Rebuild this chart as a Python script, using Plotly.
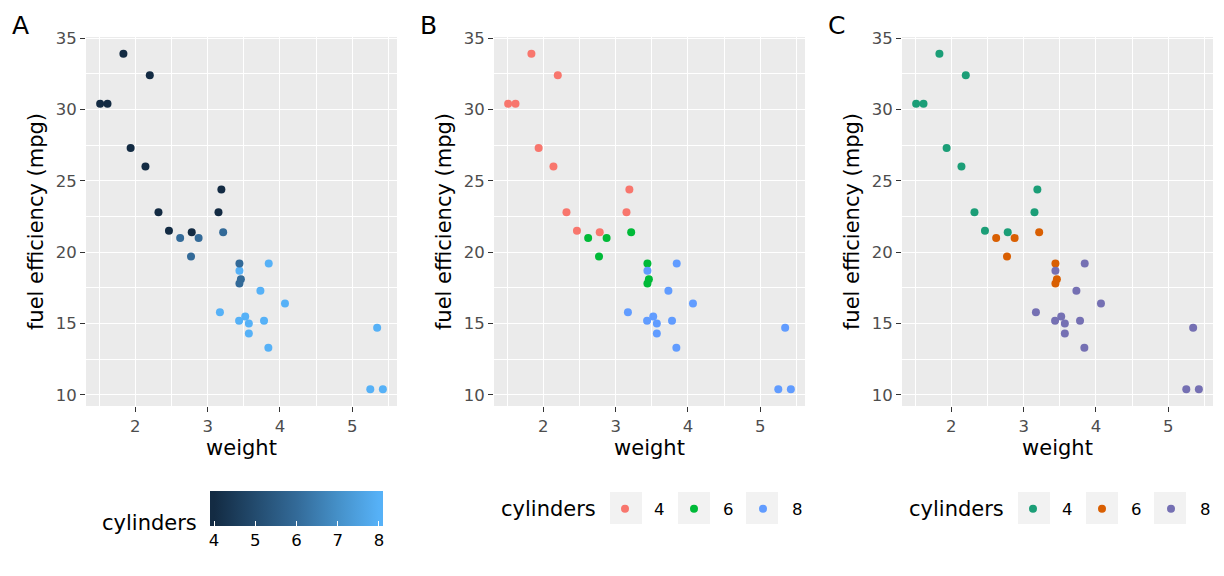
import plotly.graph_objects as go

# mtcars: weight (1000 lbs), mpg, cylinders
weight = [2.620, 2.875, 2.320, 3.215, 3.440, 3.460, 3.570, 3.190, 3.150, 3.440, 3.440,
          4.070, 3.730, 3.780, 5.250, 5.424, 5.345, 2.200, 1.615, 1.835, 2.465, 3.520,
          3.435, 3.840, 3.845, 1.935, 2.140, 1.513, 3.170, 2.770, 3.570, 2.780]
mpg = [21.0, 21.0, 22.8, 21.4, 18.7, 18.1, 14.3, 24.4, 22.8, 19.2, 17.8,
       16.4, 17.3, 15.2, 10.4, 10.4, 14.7, 32.4, 30.4, 33.9, 21.5, 15.5,
       15.2, 13.3, 19.2, 27.3, 26.0, 30.4, 15.8, 19.7, 15.0, 21.4]
cyl = [6, 6, 4, 6, 8, 6, 8, 4, 4, 6, 6,
       8, 8, 8, 8, 8, 8, 4, 4, 4, 4, 8,
       8, 8, 8, 4, 4, 4, 8, 6, 8, 4]
cyl_levels = [4, 6, 8]
colorbar_ticks = [4, 5, 6, 7, 8]
hue_colors = ["#F8766D", "#00BA38", "#619CFF"]
dark2_colors = ["#1B9E77", "#D95F02", "#7570B3"]
gradient_colors = ["#132B43", "#234B6E", "#336A98", "#4590C8", "#56B1F7"]
panel_labels = ["A", "B", "C"]

W, H = 1224, 576
FONT = "DejaVu Sans"
TICK_SIZE = 16.5
TITLE_SIZE = 21


def px(x):
    return x / W


def py(y):
    return 1 - y / H


# colour bar slightly extends beyond data range (as in ggplot guide)
cpad = 0.1
cmin, cmax = min(cyl) - cpad, max(cyl) + cpad
f0 = cpad / (cmax - cmin)
gradient = [[0.0, gradient_colors[0]]]
for j, col in enumerate(gradient_colors):
    gradient.append([f0 + (1 - 2 * f0) * j / (len(gradient_colors) - 1), col])
gradient.append([1.0, gradient_colors[-1]])

panels = [(86, 397), (494, 805), (902, 1213)]
top, bottom = 37, 406

fig = go.Figure()
layout = dict(width=W, height=H, margin=dict(l=0, r=0, t=0, b=0, autoexpand=False),
              paper_bgcolor="white", plot_bgcolor="#EBEBEB",
              font=dict(family=FONT, color="black"), annotations=[], shapes=[])

xr = [min(weight) - 0.05 * (max(weight) - min(weight)),
      max(weight) + 0.05 * (max(weight) - min(weight))]
yr = [min(mpg) - 0.05 * (max(mpg) - min(mpg)),
      max(mpg) + 0.05 * (max(mpg) - min(mpg))]

for i, (l, r) in enumerate(panels):
    sfx = "" if i == 0 else str(i + 1)
    ax_common = dict(showline=False, zeroline=False, gridcolor="white", gridwidth=1.3,
                     ticks="outside", ticklen=5, tickwidth=1.1, tickcolor="#333333",
                     tickfont=dict(size=TICK_SIZE, color="#4D4D4D", family=FONT),
                     automargin=False)
    minor = dict(showgrid=True, gridcolor="white", gridwidth=0.6)
    layout["xaxis" + sfx] = dict(ax_common, domain=[px(l), px(r)], range=xr,
                                 anchor="y" + sfx, tick0=0, dtick=1,
                                 minor=dict(minor, dtick=0.5, tick0=0),
                                 title=dict(text="weight", font=dict(size=TITLE_SIZE),
                                            standoff=4))
    layout["yaxis" + sfx] = dict(ax_common, domain=[py(bottom), py(top)], range=yr,
                                 anchor="x" + sfx, tick0=0, dtick=5,
                                 minor=dict(minor, dtick=2.5, tick0=0),
                                 title=dict(text="fuel efficiency (mpg)",
                                            font=dict(size=TITLE_SIZE), standoff=6))
    layout["annotations"].append(dict(text=panel_labels[i], x=px(l - 66), y=py(26),
                                      xref="paper", yref="paper", showarrow=False,
                                      font=dict(size=25), xanchor="center",
                                      yanchor="middle"))

# Panel A: continuous colour
fig.add_trace(go.Scatter(
    x=weight, y=mpg, mode="markers", xaxis="x", yaxis="y", showlegend=False,
    marker=dict(size=8, color=cyl, colorscale=gradient, cmin=cmin, cmax=cmax,
                showscale=True,
                colorbar=dict(orientation="h", x=px(210), xanchor="left",
                              y=py(491), yanchor="top",
                              lenmode="pixels", len=173,
                              thicknessmode="pixels", thickness=35,
                              outlinewidth=0, ticks="inside", ticklen=5,
                              tickcolor="white", tickwidth=1.2,
                              tickvals=colorbar_ticks, xpad=0, ypad=0,
                              tickfont=dict(size=TICK_SIZE, family=FONT,
                                            color="black")))))
layout["annotations"].append(dict(text="cylinders", x=px(199), y=py(523),
                                  xref="paper", yref="paper", showarrow=False,
                                  font=dict(size=TITLE_SIZE), xanchor="right",
                                  yanchor="middle"))

# Panels B and C: discrete colours
for pi, (colors, leg, sfx) in enumerate([(hue_colors, "legend", "2"),
                                          (dark2_colors, "legend2", "3")]):
    for c, col in zip(cyl_levels, colors):
        xs = [w for w, cc in zip(weight, cyl) if cc == c]
        ys = [m for m, cc in zip(mpg, cyl) if cc == c]
        fig.add_trace(go.Scatter(x=xs, y=ys, mode="markers", name=str(c),
                                 xaxis="x" + sfx, yaxis="y" + sfx, legend=leg,
                                 marker=dict(size=8, color=col)))
    off = 408 * pi
    layout[leg] = dict(orientation="h", x=px(596 + off), xanchor="left", y=py(509),
                       yanchor="middle", bgcolor="rgba(0,0,0,0)",
                       font=dict(size=TICK_SIZE, family=FONT), itemwidth=48,
                       entrywidth=6, entrywidthmode="pixels")
    layout["annotations"].append(dict(text="cylinders", x=px(598 + off), y=py(509),
                                      xref="paper", yref="paper", showarrow=False,
                                      font=dict(size=TITLE_SIZE), xanchor="right",
                                      yanchor="middle"))
    for k in range(3):
        kx = 610 + off + 68 * k
        layout["shapes"].append(dict(type="rect", xref="paper", yref="paper",
                                     x0=px(kx), x1=px(kx + 32), y0=py(524), y1=py(492),
                                     fillcolor="#F2F2F2", line=dict(width=0),
                                     layer="below"))

fig.update_layout(**layout)
fig.write_html("out.html", config={"displayModeBar": False},
               post_script="document.body.style.margin='0';")
